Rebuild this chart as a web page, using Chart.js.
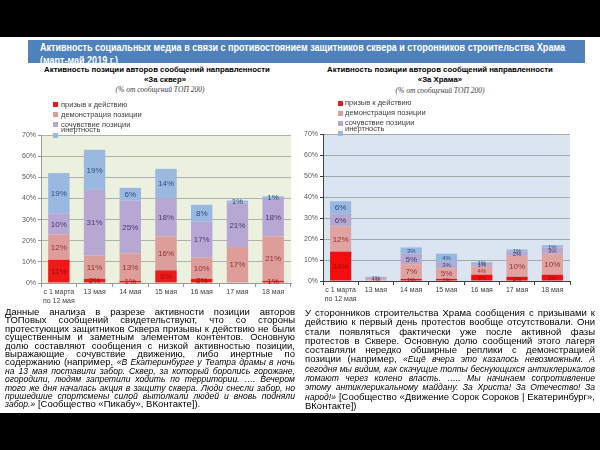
<!DOCTYPE html>
<html><head><meta charset="utf-8">
<script src="https://cdn.jsdelivr.net/npm/chart.js@4.4.1/dist/chart.umd.min.js"></script>
<style>
html,body{margin:0;padding:0;background:#fff;}
body{width:600px;height:450px;position:relative;overflow:hidden;font-family:"Liberation Sans",Arial,sans-serif;}
.band{position:absolute;left:0;width:600px;background:#000;}
#hdr{position:absolute;left:28px;top:40px;width:557px;height:23px;background:#4f81bd;overflow:hidden;}
#hdr .h{position:absolute;left:12px;color:#fff;font-weight:bold;font-size:10.5px;line-height:13px;white-space:nowrap;transform-origin:0 50%;}
.ttl{position:absolute;text-align:center;font-size:7.8px;line-height:10px;font-weight:bold;color:#000;white-space:nowrap;}
.sub{position:absolute;text-align:center;font-size:7.5px;line-height:10px;font-style:italic;font-family:"Liberation Serif",serif;color:#404040;white-space:nowrap;}
.lg{position:absolute;font-size:7.5px;color:#404040;white-space:nowrap;line-height:8px;}
.sq{position:absolute;width:5px;height:5px;}
canvas{position:absolute;}
.par{position:absolute;}
.ln{white-space:nowrap;overflow:visible;font-size:9.5px;color:#000;}
.ln i{font-size:8.6px;}
</style>
</head>
<body>
<div class="band" style="top:0;height:37px"></div>
<div class="band" style="top:413px;height:37px"></div>
<div id="hdr">
  <div class="h" id="h1" style="top:1px">Активность социальных медиа в связи с противостоянием защитников сквера и сторонников строительства Храма</div>
  <div class="h" id="h2" style="top:14px">(март-май 2019 г.)</div>
</div>

<div class="ttl" style="left:40px;width:234px;top:65px">Активность позиции авторов сообщений направленности</div>
<div class="ttl" style="left:40px;width:250px;top:75px">«За сквер»</div>
<div class="sub" style="left:40px;width:240px;top:85px">(% от сообщений ТОП 200)</div>
<div class="ttl" style="left:320px;width:240px;top:65px">Активность позиции авторов сообщений направленности</div>
<div class="ttl" style="left:320px;width:240px;top:75px">«За Храма»</div>
<div class="sub" style="left:320px;width:240px;top:86px">(% от сообщений ТОП 200)</div>

<canvas id="c1" width="300" height="185" style="left:0;top:125px"></canvas>
<canvas id="c2" width="300" height="185" style="left:300px;top:124px"></canvas>

<div id="leg1"></div>
<div id="leg2"></div>

<div class="par" id="p1" style="left:5px;top:308px;width:290px"></div>
<div class="par" id="p2" style="left:305px;top:308px;width:290px"></div>

<script>
const categories = [["с 1 марта","по 12 мая"],"13 мая","14 мая","15 мая","16 мая","17 мая","18 мая"];
const seriesNames = ["призыв к действию","демонстрация позиции","сочувствие позиции","инертность"];
const skverCall  = [11, 2, 1, 6, 2, 0, 1];
const skverDemo  = [12, 11, 13, 16, 10, 17, 21];
const skverSymp  = [10, 31, 25, 18, 17, 21, 18];
const skverInert = [19, 19, 6, 14, 8, 1, 1];
const hramCall   = [14, 0, 1, 1, 3, 2, 3];
const hramDemo   = [12, 1, 7, 5, 4, 10, 10];
const hramSymp   = [6, 1, 5, 3, 1, 2, 3];
const hramInert  = [6, 0, 3, 4, 1, 1, 1];
const yTickMax = 70;
const yTickStep = 10;

const fillColors = ['#ee1a1a','#dd9d9b','#b6a8d2','#9bb9e0'];
const labelColors = ['#9a0e0e','#8f3533','#4a3a6e','#2a4f85'];

const bgPlugin = {
  id:'plotbg',
  beforeDraw(chart, args, o){
    const a = chart.chartArea, ctx = chart.ctx;
    ctx.save(); ctx.fillStyle = o.color;
    ctx.fillRect(a.left, a.top, a.right-a.left, a.bottom-a.top);
    ctx.restore();
  }
};
const labelPlugin = {
  id:'vals',
  afterDatasetsDraw(chart, args, o){
    const ctx = chart.ctx;
    chart.data.datasets.forEach((ds,i)=>{
      const meta = chart.getDatasetMeta(i);
      meta.data.forEach((el,j)=>{
        const v = ds.data[j]; if(!v) return;
        const fs = v >= o.threshold ? o.big : o.small;
        ctx.save();
        ctx.font = fs + 'px "Liberation Sans", Arial, sans-serif';
        ctx.fillStyle = labelColors[i];
        ctx.textAlign = 'center'; ctx.textBaseline = 'middle';
        ctx.fillText(v + '%', el.x, (el.y + el.base)/2 + 0.5);
        ctx.restore();
      });
    });
  }
};

function makeChart(id, series, cfg){
  const datasets = series.map((arr,i)=>({
    label: seriesNames[i], data: arr, backgroundColor: cfg.fills[i],
    borderWidth: 0, categoryPercentage: 1, barPercentage: 0.6, stack: 's'
  }));
  return new Chart(document.getElementById(id), {
    type:'bar',
    data:{labels: categories, datasets},
    options:{
      responsive:false, animation:false,
      layout:{padding:{top:10, right:cfg.padRight, left:0, bottom:0}},
      plugins:{legend:{display:false}, tooltip:{enabled:false},
        plotbg:{color:cfg.bg}, vals:{threshold:cfg.thr, big:cfg.big, small:cfg.small}},
      scales:{
        x:{stacked:true,
          grid:{display:true, drawOnChartArea:false, drawTicks:true, tickLength:4, color:cfg.axis, offset:true},
          border:{display:true, color:cfg.axis},
          ticks:{font:{family:'"Liberation Sans", Arial, sans-serif', size:7}, color:'#404040', maxRotation:0, autoSkip:false, padding:1},
          afterFit(s){ s.height = cfg.xh; }
        },
        y:{stacked:true, min:0, max:yTickMax,
          grid:{color:cfg.grid, tickLength:3, tickColor:cfg.axis, drawTicks:true},
          border:{display:true, color:cfg.axis},
          ticks:{stepSize:yTickStep, callback:v=>v+'%', font:{family:'"Liberation Sans", Arial, sans-serif', size:7}, color:'#595959', padding:2},
          afterFit(s){ s.width = cfg.yw; }
        }
      }
    },
    plugins:[bgPlugin, labelPlugin]
  });
}

makeChart('c1', [skverCall, skverDemo, skverSymp, skverInert], {
  fills: fillColors, bg:'#ebf1de', grid:'#b0b0b0', axis:'#9a9a9a',
  padRight: 9, yw: 41, xh: 27, thr: 1, big: 8, small: 8
});
makeChart('c2', [hramCall, hramDemo, hramSymp, hramInert], {
  fills: ['#f40d0d','#e0a3a1','#b5a9d0','#9ab8df'], bg:'#dbe5f1', grid:'#a6a6a6', axis:'#404040',
  padRight: 30, yw: 23, xh: 28, thr: 5, big: 8, small: 6
});

function legend(el, sqX, sqYs, txtX, txtYs){
  let h = '';
  seriesNames.forEach((n,i)=>{
    h += `<div class="sq" style="left:${sqX}px;top:${sqYs[i]}px;background:${fillColors[i]}"></div>`;
    h += `<div class="lg" style="left:${txtX}px;top:${txtYs[i]-4}px">${n}</div>`;
  });
  document.getElementById(el).innerHTML = h;
}
legend('leg1', 53, [102,112,122,133], 61, [104.5,115,125,130]);
legend('leg2', 338, [101,111,121,131], 345, [103,113,123,129]);

const para1 = [
  "Данные анализа в разрезе активности позиции авторов",
  "ТОПовых сообщений свидетельствуют, что со стороны",
  "протестующих защитников Сквера призывы к действию не были",
  "существенным и заметным элементом контентов. Основную",
  "долю составляют сообщения с низкой активностью позиции,",
  "выражающие сочувствие движению, либо инертные по",
  "содержанию (например, <i>«В Екатеринбурге у Театра драмы в ночь</i>",
  "<i>на 13 мая поставили забор. Сквер, за который боролись горожане,</i>",
  "<i>огородили, людям запретили ходить по территории. …. Вечером</i>",
  "<i>того же дня началась акция в защиту сквера. Люди снесли забор, но</i>",
  "<i>пришедшие спортсмены силой вытолкали людей и вновь подняли</i>",
  "<i>забор.»</i> [Сообщество «Пикабу», ВКонтакте])."
];
const para2 = [
  "У сторонников строительства Храма сообщения с призывами к",
  "действию к первый день протестов вообще отсутствовали. Они",
  "стали появляться фактически уже после активной фазы",
  "протестов в Сквере. Основную долю сообщений этого лагеря",
  "составляли нередко обширные реплики с демонстрацией",
  "позиции (например, <i>«Ещё вчера это казалось невозможным. А</i>",
  "<i>сегодня мы видим, как скачущие толпы беснующихся антиклерикалов</i>",
  "<i>ломают через колено власть. ….. Мы начинаем сопротивление</i>",
  "<i>этому антиклерикальному майдану. За Христа! За Отечество! За</i>",
  "<i>народ!»</i> [Сообщество «Движение Сорок Сороков | Екатеринбург»,",
  "ВКонтакте])"
];
function buildPara(id, lines, lh){
  const p = document.getElementById(id);
  p.innerHTML = lines.map((l,i)=>`<div class="ln${i===lines.length-1?' last':''}" style="height:${lh}px;line-height:${lh}px"><span>${l}</span></div>`).join('');
}
buildPara('p1', para1, 8.4);
buildPara('p2', para2, 9.3);

function fitLines(){
  document.querySelectorAll('.ln').forEach(d=>{
    const s = d.firstElementChild;
    const W = d.clientWidth;
    const w = s.getBoundingClientRect().width;
    if (w > W){
      s.style.display='inline-block'; s.style.transformOrigin='0 50%';
      s.style.transform='scaleX(' + (W/w) + ')';
      return;
    }
    if (d.classList.contains('last')) return;
    const spaces = (s.textContent.match(/ /g)||[]).length;
    if (spaces) s.style.wordSpacing = ((W - w)/spaces) + 'px';
  });
  const h1 = document.getElementById('h1'), h2 = document.getElementById('h2');
  const k = 525 / h1.getBoundingClientRect().width;
  h1.style.transform = h2.style.transform = 'scaleX(' + k + ')';
}
if (document.fonts && document.fonts.ready) document.fonts.ready.then(fitLines); else fitLines();
</script>
</body></html>
